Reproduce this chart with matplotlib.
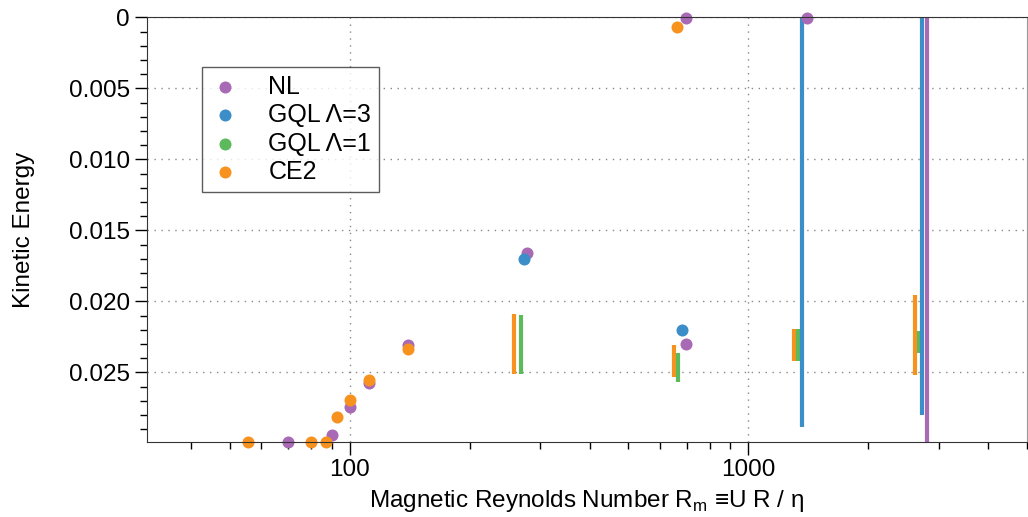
import numpy as np
import matplotlib.pyplot as plt
from matplotlib.ticker import FixedLocator, FuncFormatter, MultipleLocator

plt.rcParams['font.family'] = ['Liberation Sans', 'DejaVu Sans']

# couleurs
c_nl = '#a86ab5'
c_g3 = '#3b8ec7'
c_g1 = '#5cb95c'
c_ce = '#f7921f'

Y_BOT = 0.0299

# points (Rm, energie)
nl_rm = [70, 90, 100, 112, 140, 279, 698, 699, 1400]
nl_ke = [Y_BOT, 0.02937, 0.02742, 0.02577, 0.02308, 0.01662, 0.02301, 0.00005, 0.00007]
g3_rm = [274, 682]
g3_ke = [0.01704, 0.02202]
ce_rm = [55.6, 80, 87, 93, 100, 112, 140, 664]
ce_ke = [Y_BOT, Y_BOT, Y_BOT, 0.02813, 0.02695, 0.02554, 0.02338, 0.00068]

# barres verticales (Rm, min, max)
nl_bar_rm = [2799]
nl_bar_lo = [0.0]
nl_bar_hi = [0.031]
g3_bar_rm = [1365, 2729]
g3_bar_lo = [0.0, 0.0]
g3_bar_hi = [0.02883, 0.02801]
g1_bar_rm = [269, 665, 1332, 2673]
g1_bar_lo = [0.02094, 0.02366, 0.02195, 0.02207]
g1_bar_hi = [0.02512, 0.02570, 0.02420, 0.02366]
ce_bar_rm = [259, 650, 1302, 2617]
ce_bar_lo = [0.02089, 0.02306, 0.02195, 0.01956]
ce_bar_hi = [0.02510, 0.02531, 0.02420, 0.02519]

fig = plt.figure(figsize=(10.28, 5.17), dpi=100)
ax = fig.add_axes([0.143, 0.145, 0.856, 0.8215])

lw = 3.0
ax.vlines(ce_bar_rm, ce_bar_lo, ce_bar_hi, color=c_ce, lw=lw)
ax.vlines(g1_bar_rm, g1_bar_lo, g1_bar_hi, color=c_g1, lw=lw)
ax.vlines(g3_bar_rm, g3_bar_lo, g3_bar_hi, color=c_g3, lw=lw)
ax.vlines(nl_bar_rm, nl_bar_lo, nl_bar_hi, color=c_nl, lw=lw)

ms = 75
ax.scatter(nl_rm, nl_ke, s=ms, color=c_nl, label='NL', clip_on=False, zorder=2, linewidths=0)
ax.scatter(g3_rm, g3_ke, s=ms, color=c_g3, label='GQL Λ=3', clip_on=False, zorder=2, linewidths=0)
ax.scatter([], [], s=ms, color=c_g1, label='GQL Λ=1', linewidths=0)
ax.scatter(ce_rm, ce_ke, s=ms, color=c_ce, label='CE2', clip_on=False, zorder=2, linewidths=0)

ax.set_xscale('log')
ax.set_xlim(31, 5000)
ax.set_ylim(Y_BOT, 0)

ax.xaxis.set_major_locator(FixedLocator([100, 1000]))
ax.xaxis.set_major_formatter(FuncFormatter(lambda v, p: '%d' % v))
ax.yaxis.set_major_locator(MultipleLocator(0.005))
ax.yaxis.set_minor_locator(MultipleLocator(0.001))
ax.yaxis.set_major_formatter(FuncFormatter(lambda v, p: '0' if abs(v) < 1e-9 else '%.3f' % v))

ax.tick_params(axis='both', which='major', labelsize=17.5, length=9, width=1, direction='out')
ax.tick_params(axis='both', which='minor', length=5, width=1, direction='out')
ax.tick_params(axis='x', which='minor', labelbottom=False)

ax.grid(True, which='major', linestyle=(0, (1, 4)), color='#888888', lw=1)

for s in ['left', 'bottom', 'top']:
    ax.spines[s].set_color('#333333')
ax.spines['right'].set_color('#999999')

ax.set_xlabel(r'Magnetic Reynolds Number R$_\mathregular{m}$ ≡U R / η', fontsize=17.5, labelpad=5)
ax.set_ylabel('Kinetic Energy', fontsize=17.5, labelpad=24)

leg = ax.legend(loc='upper left', bbox_to_anchor=(0.0625, 0.883), fontsize=18, frameon=True,
                fancybox=False, edgecolor='#333333', handletextpad=1.15, labelspacing=0.18,
                borderpad=0.3, scatterpoints=1, handlelength=1.2, borderaxespad=0)
leg.get_frame().set_linewidth(1)

fig.savefig('out.png', dpi=100)
